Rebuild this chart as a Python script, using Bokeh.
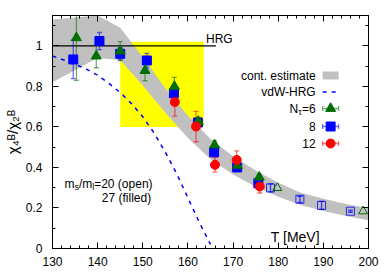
import math
from bokeh.plotting import figure
from bokeh.models import (Range1d, LinearAxis, Label, SingleIntervalTicker,
                          CustomJSTickFormatter)
from bokeh.embed import file_html
from bokeh.resources import INLINE

# ---------------- data ----------------
# continuum estimate band
band_T = [130, 140, 145, 150, 155, 160, 165, 170, 175, 180, 185, 190, 195, 200]
band_lo = [0.82, 0.94, 0.93, 0.805, 0.67, 0.545, 0.44, 0.365, 0.305, 0.255, 0.215, 0.185, 0.16, 0.14]
band_hi = [1.13, 1.15, 1.09, 0.945, 0.79, 0.655, 0.54, 0.455, 0.385, 0.325, 0.275, 0.245, 0.22, 0.20]

# vdW-HRG curve
vdw_T = [130, 132.5, 135, 137.5, 140, 142.5, 145, 147.5, 150, 152.5, 155, 157.5, 160, 162.5, 165]
vdw_v = [0.95, 0.93, 0.91, 0.885, 0.855, 0.815, 0.77, 0.715, 0.65, 0.57, 0.475, 0.37, 0.25, 0.13, 0.02]

# HRG line
hrg_T = [130, 166.2]
hrg_v = [1.0, 1.0]

# yellow box (T range, value range)
box_T = [145, 163.5]
box_v = [0.6, 1.02]

# N_tau = 6, m_s/m_l = 27 (filled)
n6_T = [135.3, 139.7, 145.0, 150.5, 157.0, 162.3, 165.9, 171.0, 175.8]
n6_v = [1.04, 0.95, 0.974, 0.878, 0.80, 0.627, 0.511, 0.41, 0.352]
n6_e = [0.21, 0.058, 0.047, 0.05, 0.045, 0.02, 0.02, 0.015, 0.015]

# N_tau = 8, filled
n8_T = [134.6, 140.4, 145.0, 150.9, 156.9, 162.2, 165.8, 170.9, 175.6]
n8_v = [0.933, 1.024, 0.961, 0.928, 0.766, 0.622, 0.475, 0.40, 0.322]
n8_e = [0.095, 0.042, 0.03, 0.035, 0.02, 0.015, 0.015, 0.01, 0.01]

# N_tau = 12, filled
n12_T = [157.1, 161.8, 166.0, 170.8, 175.9]
n12_v = [0.723, 0.602, 0.413, 0.437, 0.306]
n12_e = [0.07, 0.075, 0.036, 0.045, 0.032]

# m_s/m_l = 20 (open)
o8_T = [178.3, 184.8, 189.6, 196.0]
o8_v = [0.299, 0.243, 0.213, 0.184]
o8_e = [0.02, 0.015, 0.02, 0.005]
o6_T = [179.8, 198.8]
o6_v = [0.299, 0.184]

XMIN, XMAX, YMIN, YMAX = 130, 200, 0, 1.15

# ---------------- layout helpers (page px -> data) ----------------
FL, FR, FT, FB = 51, 368, 15, 248


def X(px):
    return XMIN + (px - FL) * (XMAX - XMIN) / (FR - FL)


def Y(py):
    return YMIN + (FB - py) * (YMAX - YMIN) / (FB - FT)


FONT = "Liberation Sans"
GREEN = "#006e00"
BLUE = "#0000ff"
RED = "#ff0000"

p = figure(width=384, height=272, output_backend="svg", toolbar_location=None,
           x_range=Range1d(XMIN, XMAX), y_range=Range1d(YMIN, YMAX),
           min_border_left=FL, min_border_right=384 - FR, min_border_top=FT,
           min_border_bottom=272 - FB)
p.grid.visible = False
p.outline_line_color = "black"
p.outline_line_width = 1
p.background_fill_color = "white"
p.border_fill_color = "white"

# axes styling
p.xaxis.ticker = SingleIntervalTicker(interval=10, num_minor_ticks=5)
p.yaxis.ticker = SingleIntervalTicker(interval=0.2, num_minor_ticks=2)
p.yaxis.formatter = CustomJSTickFormatter(code="return Number(tick.toFixed(1)).toString();")
for ax in [p.xaxis[0], p.yaxis[0]]:
    ax.major_tick_in = 6
    ax.major_tick_out = 0
    ax.minor_tick_in = 3
    ax.minor_tick_out = 0
    ax.axis_line_color = "black"
    ax.major_label_text_font = FONT
    ax.major_label_text_font_size = "12px"
    ax.major_label_text_color = "black"
p.xaxis.major_label_standoff = 8
p.yaxis.major_label_standoff = 10

p.yaxis.axis_label = "\u03c7\u2084\u1d2e/\u03c7\u2082\u1d2e"
p.yaxis.axis_label_text_font = FONT
p.yaxis.axis_label_text_font_size = "15px"
p.yaxis.axis_label_text_font_style = "normal"
p.yaxis.axis_label_text_color = "black"
p.yaxis.axis_label_standoff = 2

empty = CustomJSTickFormatter(code="return '';")
top_ax = LinearAxis(ticker=SingleIntervalTicker(interval=10, num_minor_ticks=5), formatter=empty)
right_ax = LinearAxis(ticker=SingleIntervalTicker(interval=0.2, num_minor_ticks=2), formatter=empty)
for ax in [top_ax, right_ax]:
    ax.major_tick_in = 6
    ax.major_tick_out = 0
    ax.minor_tick_in = 3
    ax.minor_tick_out = 0
    ax.major_label_text_font_size = "0px"
    ax.major_label_standoff = 0
    ax.axis_line_color = "black"
p.add_layout(top_ax, "above")
p.add_layout(right_ax, "right")

# yellow box
p.quad(left=[box_T[0]], right=[box_T[1]], bottom=[box_v[0]], top=[box_v[1]],
       fill_color="#ffff00", line_color=None)
# continuum band
p.varea(x=band_T, y1=band_lo, y2=band_hi, fill_color="#c0c0c0")
# HRG
p.line(hrg_T, hrg_v, line_color="black", line_width=1.3)
# vdW-HRG
p.line(vdw_T, vdw_v, line_color=BLUE, line_width=1.5, line_dash="4 5")


def errbars(T, v, e, color, alpha=0.55):
    lo = [a - b for a, b in zip(v, e)]
    hi = [a + b for a, b in zip(v, e)]
    p.segment(x0=T, y0=lo, x1=T, y1=hi, line_color=color, line_alpha=alpha, line_width=1.3)
    p.scatter(x=T + T, y=lo + hi, marker="dash", size=5, line_color=color,
              line_alpha=alpha, line_width=1.3)


errbars(o8_T, o8_v, o8_e, BLUE, 0.7)
p.scatter(o8_T, o8_v, marker="square", size=8, fill_color=None, line_color=BLUE,
          line_alpha=0.8, line_width=1)
p.scatter(o6_T, o6_v, marker="triangle", size=9, fill_color=None, line_color=GREEN,
          line_width=1)

errbars(n8_T, n8_v, n8_e, BLUE)
errbars(n6_T, n6_v, n6_e, GREEN)
errbars(n12_T, n12_v, n12_e, RED)
p.scatter(n8_T, n8_v, marker="square", size=9, fill_color=BLUE, line_color=BLUE)
p.scatter(n6_T, n6_v, marker="triangle", size=10, fill_color=GREEN, line_color=GREEN)
p.scatter(n12_T, n12_v, marker="circle", size=9, fill_color=RED, line_color=RED)


def lab(px, py, text, size="12px", align="left", baseline="middle"):
    p.add_layout(Label(x=X(px), y=Y(py), text=text, text_font=FONT,
                       text_font_size=size, text_align=align,
                       text_baseline=baseline, text_color="black"))


# texts inside plot
lab(205, 38, "HRG")
lab(270, 236, "T [MeV]", size="14px")
lab(63, 183, "m")
lab(73, 186, "s", size="9px")
lab(77.5, 183, "/m")
lab(90.8, 186, "l", size="9px")
lab(92.8, 183, "=20 (open)")
lab(150, 197, "27 (filled)", align="right")

# legend
LX0, LX1, LXC = 322, 338, 330
lab(315, 75, "cont. estimate", align="right")
lab(315, 91, "vdW-HRG", align="right")
lab(315, 108, "=6", align="right")
lab(297.5, 111, "\u03c4", size="9px", align="left")
lab(297.5, 108, "N", align="right")
lab(315, 126, "8", align="right")
lab(315, 143, "12", align="right")

p.quad(left=[X(LX0)], right=[X(LX1)], bottom=[Y(79)], top=[Y(71)],
       fill_color="#c0c0c0", line_color=None)
p.line([X(LX0), X(LX1)], [Y(91.5), Y(91.5)], line_color=BLUE, line_width=1.5,
       line_dash="4 5")
for py, col, mk, sz in [(108, GREEN, "triangle", 10), (126, BLUE, "square", 9),
                        (143, RED, "circle", 9)]:
    p.line([X(LX0), X(LX1)], [Y(py), Y(py)], line_color=col, line_alpha=0.55, line_width=1.3)
    p.scatter([X(LX0), X(LX1)], [Y(py), Y(py)], marker="dash", angle=math.pi / 2,
              size=5, line_color=col, line_alpha=0.55, line_width=1.3)
    p.scatter([X(LXC)], [Y(py)], marker=mk, size=sz, fill_color=col, line_color=col)

open("out.html", "w").write(file_html(p, INLINE))
